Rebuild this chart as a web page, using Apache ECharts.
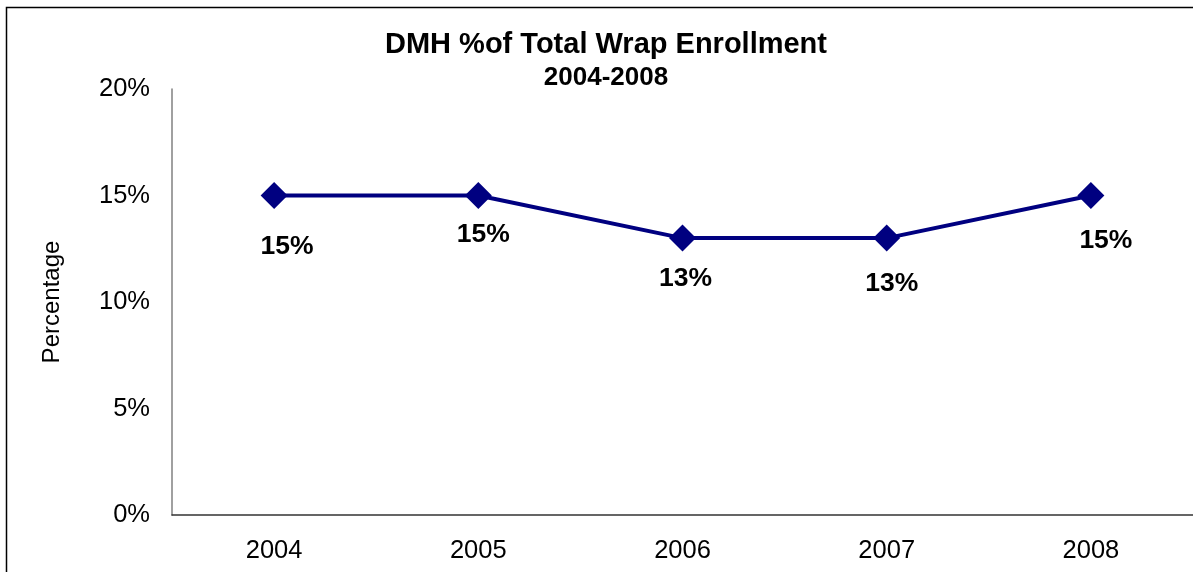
<!DOCTYPE html>
<html>
	<head>
		<meta charset="UTF-8">
		<title>DMH % of Total Wrap Enrollment</title>
		<style>
			html, body { margin: 0; padding: 0; background: #fff; }
			#chart { width: 1193px; height: 572px; }
		</style>
	</head>
	<body>
		<div id="chart"></div>
	</body>
	<script src="https://cdn.jsdelivr.net/npm/echarts@6/dist/echarts.min.js"></script>
	<script type="text/javascript">
		// data
		var years = ['2004', '2005', '2006', '2007', '2008'];
		var pct = [15, 15, 13, 13, 15];
		var yTicks = [0, 5, 10, 15, 20];
		// where Excel dropped each data label, relative to the point
		var labelShift = [[13, 51], [5, 39], [3, 41], [5, 46], [15, 45]];

		var font = 'Arial, "Liberation Sans", sans-serif';
		var points = [];
		for (var i = 0; i < pct.length; i++) {
			points.push({
				value: pct[i],
				label: { offset: labelShift[i] }
			});
		}

		var myChart = echarts.init(document.getElementById('chart'));
		var option = {
			backgroundColor: '#fff',
			animation: false,
			title: {
				text: 'DMH %of Total Wrap Enrollment',
				subtext: '2004-2008',
				left: 601,
				textAlign: 'center',
				top: 25,
				itemGap: 6,
				textStyle: { fontFamily: font, fontSize: 29, fontWeight: 'bold', color: '#000' },
				subtextStyle: { fontFamily: font, fontSize: 26, fontWeight: 'bold', color: '#000' }
			},
			graphic: [{
				type: 'rect',
				shape: { x: 6.5, y: 7.5, width: 1200, height: 600 },
				style: { fill: 'none', stroke: '#000', lineWidth: 1.5 },
				silent: true
			}],
			grid: { left: 172, top: 89, bottom: 57, width: 1030 },
			xAxis: {
				type: 'category',
				data: years,
				boundaryGap: true,
				axisLine: { lineStyle: { color: '#333', width: 1.5 } },
				axisTick: { show: false },
				axisLabel: { margin: 23, fontFamily: font, fontSize: 25.5, color: '#000' },
				splitLine: { show: false }
			},
			yAxis: {
				type: 'value',
				min: yTicks[0],
				max: yTicks[yTicks.length - 1],
				interval: 5,
				name: 'Percentage',
				nameLocation: 'middle',
				nameGap: 108,
				nameTextStyle: { fontFamily: font, fontSize: 24, color: '#000' },
				axisLine: { show: true, lineStyle: { color: '#808080', width: 1.5 } },
				axisTick: { show: false },
				axisLabel: {
					margin: 22, fontFamily: font, fontSize: 25.5, color: '#000',
					formatter: function (v) { return v + '%'; }
				},
				splitLine: { show: false }
			},
			series: [{
				type: 'line',
				data: points,
				symbol: 'diamond',
				symbolSize: 27,
				itemStyle: { color: '#000080' },
				lineStyle: { color: '#000080', width: 4 },
				label: {
					show: true,
					position: 'inside',
					fontFamily: font,
					fontSize: 26.5,
					fontWeight: 'bold',
					color: '#000',
					formatter: function (p) { return p.value + '%'; }
				}
			}]
		};
		myChart.setOption(option);
	</script>
</html>
